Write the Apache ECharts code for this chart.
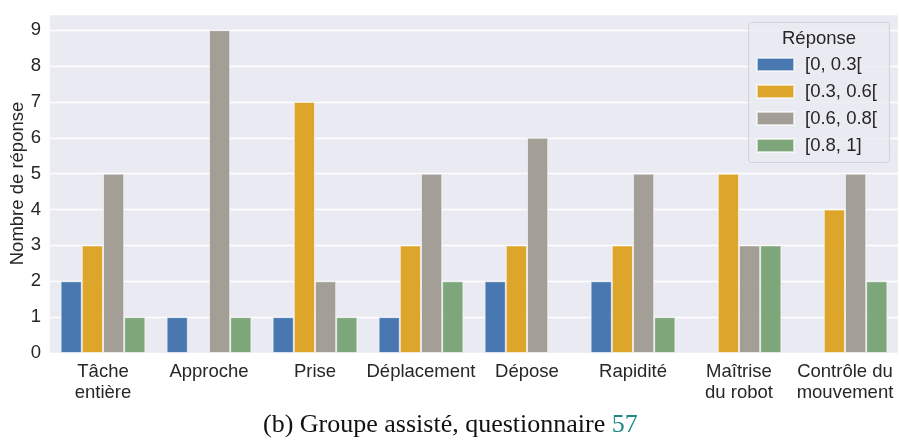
<!DOCTYPE html>
<html>
<head>
<meta charset="utf-8">
<script src="https://cdn.jsdelivr.net/npm/echarts@6/dist/echarts.min.js"></script>
<style>
  html, body { margin: 0; padding: 0; background: #ffffff; }
  #chart { width: 899px; height: 441px; }
</style>
</head>
<body>
<div id="chart"></div>
<script>
// Categories (questionnaire items)
const categories = ['Tâche\nentière', 'Approche', 'Prise', 'Déplacement', 'Dépose', 'Rapidité', 'Maîtrise\ndu robot', 'Contrôle du\nmouvement'];

// Response counts per score bracket
const range0 = [2, 1, 1, 1, 2, 2, 0, 0];   // [0, 0.3[
const range1 = [3, 0, 7, 3, 3, 3, 5, 4];   // [0.3, 0.6[
const range2 = [5, 9, 2, 5, 6, 5, 3, 5];   // [0.6, 0.8[
const range3 = [1, 1, 1, 2, 0, 1, 3, 2];   // [0.8, 1]

const seriesNames = ['[0, 0.3[', '[0.3, 0.6[', '[0.6, 0.8[', '[0.8, 1]'];
const seriesData = [range0, range1, range2, range3];
const colors = ['#4878AF', '#DDA62B', '#A39F97', '#7DA77A'];

const yTicks = [0, 1, 2, 3, 4, 5, 6, 7, 8, 9];

const chart = echarts.init(document.getElementById('chart'), null, { renderer: 'canvas' });

const font = '"Liberation Sans", Arial, sans-serif';
const ink = '#262626';

chart.setOption({
  animation: false,
  backgroundColor: '#ffffff',
  grid: {
    left: 50, right: 1, top: 14, bottom: 88,
    outerBoundsMode: 'none',
    containLabel: false,
    backgroundColor: '#EAEAF2', show: true, borderWidth: 0
  },
  legend: {
    orient: 'vertical',
    left: 756,
    top: 55,
    padding: 0,
    itemWidth: 37,
    itemHeight: 13,
    itemGap: 8,
    z: 20,
    data: seriesNames,
    textStyle: { fontFamily: font, fontSize: 18.5, color: ink, padding: [0, 0, 0, 6] },
    icon: 'rect'
  },
  xAxis: {
    type: 'category',
    data: categories,
    axisLine: { show: false },
    axisTick: { show: false },
    axisLabel: { fontFamily: font, fontSize: 18.5, color: ink, margin: 8, lineHeight: 21, interval: 0 }
  },
  yAxis: {
    type: 'value',
    min: 0,
    max: 9.45,
    interval: 1,
    name: 'Nombre de réponse',
    nameLocation: 'middle',
    nameGap: 23,
    nameMoveOverlap: false,
    nameTextStyle: { fontFamily: font, fontSize: 18.5, color: ink },
    axisLine: { show: false },
    axisTick: { show: false },
    axisLabel: {
      fontFamily: font, fontSize: 18.5, color: ink, margin: 9,
      formatter: v => (yTicks.indexOf(v) >= 0 ? String(v) : '')
    },
    splitLine: { lineStyle: { color: '#ffffff', width: 1.3 } }
  },
  series: seriesData.map((d, i) => ({
    name: seriesNames[i],
    type: 'bar',
    // empty brackets are left out so no zero-height outline is drawn
    data: d.map(v => (v === 0 ? null : v)),
    barGap: '0%',
    barCategoryGap: '20%',
    itemStyle: { color: colors[i], borderColor: 'rgba(255,255,255,0.6)', borderWidth: 1 }
  })),
  graphic: [
    {
      type: 'rect',
      left: 748, top: 22,
      shape: { width: 141, height: 140, r: 3 },
      style: { fill: 'rgba(234,234,242,0.85)', stroke: '#d2d2da', lineWidth: 1 },
      z: 5
    },
    {
      type: 'text',
      left: 782, top: 29,
      style: { text: 'Réponse', font: '18.5px ' + font, fill: ink },
      z: 10
    },
    {
      type: 'text',
      left: 263,
      top: 412,
      style: {
        text: '{b|(b) Groupe assisté, questionnaire }{n|57}',
        rich: {
          b: { font: '26px "Liberation Serif", "DejaVu Serif", serif', fill: '#111111' },
          n: { font: '26px "Liberation Serif", "DejaVu Serif", serif', fill: '#1F8A87' }
        }
      }
    }
  ]
});
</script>
</body>
</html>
